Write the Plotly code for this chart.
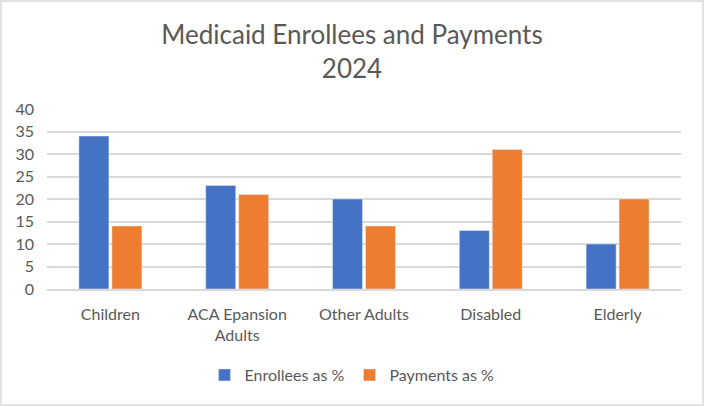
import plotly.graph_objects as go

categories = ["Children", "ACA Epansion<br>Adults", "Other Adults", "Disabled", "Elderly"]
enrollees = [34, 23, 20, 13, 10]
payments = [14, 21, 14, 31, 20]

W, H = 704, 406
ML, MR, MT, MB = 47, 23, 109, 117
grey = "#595959"
font = "Lato, 'Open Sans', sans-serif"

fig = go.Figure()
fig.add_trace(go.Bar(x=categories, y=enrollees, name="Enrollees as %",
                     marker_color="#4472C4"))
fig.add_trace(go.Bar(x=categories, y=payments, name="Payments as %",
                     marker_color="#ED7D31"))

pw = W - ML - MR
ph = H - MT - MB
# outer chart border
fig.add_shape(type="rect", xref="paper", yref="paper",
              x0=-(ML - 1) / pw, x1=1 + (MR - 1) / pw,
              y0=-(MB - 1) / ph, y1=1 + (MT - 1) / ph,
              line=dict(color="#D9D9D9", width=1.5))

fig.update_layout(
    width=W, height=H,
    margin=dict(l=ML, r=MR, t=MT, b=MB),
    paper_bgcolor="white", plot_bgcolor="white",
    font=dict(family=font, color=grey, size=16),
    title=dict(text="Medicaid Enrollees and Payments<br>2024",
               x=0.5, xanchor="center", y=1 - 44 / H, yanchor="middle",
               font=dict(size=26, color=grey, family=font)),
    barmode="group", bargap=0.48, bargroupgap=0.09,
    legend=dict(orientation="h", x=0.5 - 12 / pw, xanchor="center",
                y=-(375 - 289) / ph, yanchor="middle",
                font=dict(size=16, color=grey), traceorder="normal"),
    showlegend=True,
)
fig.update_yaxes(range=[0, 40], dtick=5, showgrid=True, gridcolor="#D9D9D9",
                 gridwidth=1.5, zeroline=False, showline=False, ticks="",
                 ticklabelstandoff=12, tickfont=dict(size=16, color=grey))
fig.update_xaxes(showline=True, linecolor="#D9D9D9", linewidth=1.5, ticks="",
                 ticklabelstandoff=10, tickfont=dict(size=16, color=grey),
                 tickangle=0)

fig.write_html("out.html", config={"displayModeBar": False},
               post_script="document.body.style.margin='0';")
